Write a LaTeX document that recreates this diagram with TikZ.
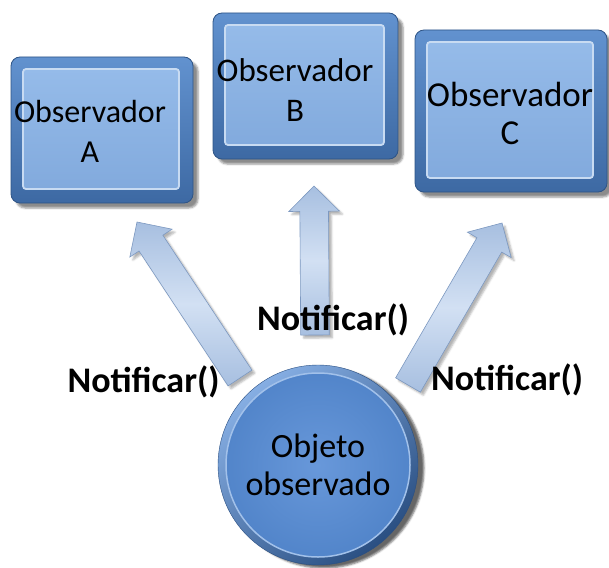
\documentclass[tikz,border=0pt]{standalone}
\usepackage{fontspec}
\setmainfont{Carlito}
\usetikzlibrary{shapes.arrows,shadows.blur,calc}

\definecolor{frameTop}{HTML}{6292CF}
\definecolor{frameBot}{HTML}{3D69A3}
\definecolor{frameEdge}{HTML}{2E5486}
\definecolor{faceTop}{HTML}{95BBE9}
\definecolor{faceBot}{HTML}{82AADD}
\definecolor{faceRim}{HTML}{C8DBF2}
\definecolor{arrowSide}{HTML}{A7BFE0}
\definecolor{arrowMid}{HTML}{D2E0F3}
\definecolor{arrowEdge}{HTML}{7C98C0}
\definecolor{ringLight}{HTML}{86AEE3}
\definecolor{ringDark}{HTML}{2A4F82}
\definecolor{discIn}{HTML}{6898DA}
\definecolor{discOut}{HTML}{5285CA}
\definecolor{discRim}{HTML}{A2C1EA}

\tikzset{
  boxframe/.style={rectangle, rounded corners=9pt, inner sep=0pt, top color=frameTop,
    bottom color=frameBot, draw=frameEdge, line width=0.8pt,
    blur shadow={shadow xshift=5pt, shadow yshift=-5pt, shadow opacity=45}},
  face/.style={rectangle, rounded corners=3pt, top color=faceTop, bottom color=faceBot,
    draw=faceRim, line width=1.8pt, inner sep=0pt},
  boxtext/.style={align=center, text=black, inner sep=0pt},
  blockarrow/.style={single arrow, single arrow head extend=11pt, inner xsep=0pt,
    inner ysep=14pt, outer sep=0pt, top color=arrowSide, bottom color=arrowSide,
    middle color=arrowMid, draw=arrowEdge, line width=0.6pt,
    blur shadow={shadow xshift=3pt, shadow yshift=-3pt, shadow opacity=30}},
  calllabel/.style={font=\fontsize{36}{40}\selectfont\bfseries, text=black,
    inner sep=0pt, anchor=base},
}

\begin{document}
\begin{tikzpicture}[x=1pt,y=-1pt]
\useasboundingbox (0,0) rectangle (609,567);

% bevelled observer frames
\node[boxframe, minimum width=182pt, minimum height=146pt] (frameA) at (102,130) {};
\node[boxframe, minimum width=185pt, minimum height=146pt] (frameB) at (305.5,86) {};
\node[boxframe, minimum width=192pt, minimum height=162pt] (frameC) at (511,111) {};

% inner faces
\node[face, minimum width=156pt, minimum height=120pt] (faceA) at ([shift={(-1,-1)}]frameA.center) {};
\node[face, minimum width=159pt, minimum height=120pt] (faceB) at ([shift={(-1,-1)}]frameB.center) {};
\node[face, minimum width=166pt, minimum height=136pt] (faceC) at ([shift={(-1,-1)}]frameC.center) {};

% observer captions
\node[boxtext, font=\fontsize{32}{40}\selectfont] (txtA) at (90,131) {Observador\\A};
\node[boxtext, font=\fontsize{33}{40}\selectfont] (txtB) at (295,90.5) {Observador\\B};
\node[boxtext, font=\fontsize{35}{38}\selectfont] (txtC) at (510,113.5) {Observador\\C};

% observed subject
\node[circle, minimum size=200pt, inner sep=0pt, top color=ringLight, bottom color=ringDark,
  shading angle=40, draw=ringDark,
  blur shadow={shadow xshift=6pt, shadow yshift=-3pt, shadow opacity=60}] (objRing) at (318,465) {};
\node[circle, minimum size=184pt, inner sep=0pt, inner color=discIn, outer color=discOut,
  draw=discRim, line width=1.5pt, align=center, font=\fontsize{34}{38}\selectfont]
  (obj) at (objRing.center) {Objeto\\observado};

% notification arrows
\coordinate (baseL) at (240,378); \coordinate (tipL) at (137,222);
\coordinate (baseM) at (315,335); \coordinate (tipM) at (314,186);
\coordinate (baseR) at (408,385); \coordinate (tipR) at (502,223);
\foreach \bs/\tp/\nm in {baseL/tipL/arrowL, baseM/tipM/arrowM, baseR/tipR/arrowR}
  \path let \p1=($(\tp)-(\bs)$), \n1={veclen(\x1,\y1)}, \n2={atan2(\y1,\x1)} in
    (\bs) node[blockarrow, anchor=tail, rotate=\n2, minimum height=\n1] (\nm) {};

% call labels
\node[calllabel] (callL) at (143.5,392) {Notificar()};
\node[calllabel] (callM) at (333,330) {Notificar()};
\node[calllabel] (callR) at (507,390) {Notificar()};
\end{tikzpicture}
\end{document}
